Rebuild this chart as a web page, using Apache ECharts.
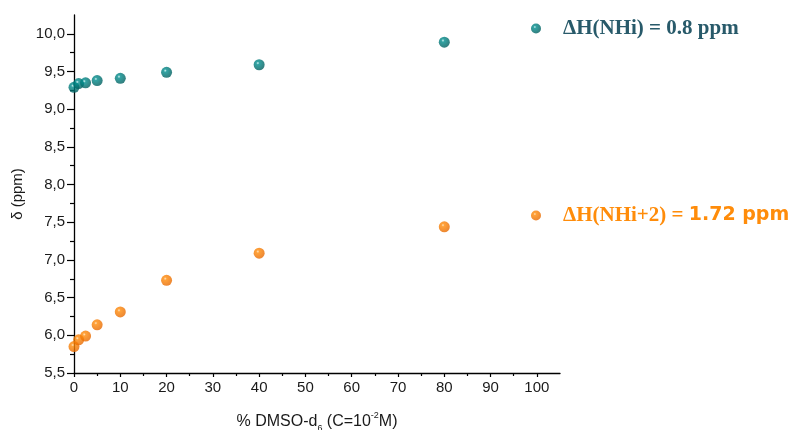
<!DOCTYPE html>
<html>
<head>
<meta charset="utf-8">
<script src="https://cdn.jsdelivr.net/npm/echarts@6/dist/echarts.min.js"></script>
<style>html,body{margin:0;padding:0;background:#fff}#c{width:794px;height:430px}</style>
</head>
<body>
<div id="c"></div>
<script>
var xValues = [0, 1, 2.5, 5, 10, 20, 40, 80];
var nhiValues = [9.29, 9.34, 9.35, 9.38, 9.41, 9.49, 9.59, 9.89];
var nhi2Values = [5.85, 5.94, 5.99, 6.14, 6.31, 6.73, 7.09, 7.44];
var xTicks = [0, 10, 20, 30, 40, 50, 60, 70, 80, 90, 100];
var yTicks = [5.5, 6.0, 6.5, 7.0, 7.5, 8.0, 8.5, 9.0, 9.5, 10.0];

function pairs(xs, ys) { return xs.map(function (x, i) { return [x, ys[i]]; }); }

var tealGrad = {type: 'radial', x: 0.38, y: 0.35, r: 0.65,
  colorStops: [{offset: 0, color: '#c8f0f0'}, {offset: 0.22, color: '#008c8c'}, {offset: 1, color: '#005f5f'}]};
var orangeGrad = {type: 'radial', x: 0.38, y: 0.35, r: 0.65,
  colorStops: [{offset: 0, color: '#ffdcb0'}, {offset: 0.22, color: '#ff8a08'}, {offset: 1, color: '#e86a00'}]};

var chart = echarts.init(document.getElementById('c'), null, {renderer: 'canvas'});
chart.setOption({
  animation: false,
  backgroundColor: '#fff',
  grid: {left: 74, right: 234, top: 15, bottom: 57, outerBoundsMode: 'none', containLabel: false},
  xAxis: {
    type: 'value', min: 0, max: 105, interval: 10,
    name: '{n|% DMSO-d}{s|6}{n| (C=10}{p|-2}{n|M)}',
    nameLocation: 'middle', nameGap: 38,
    nameTextStyle: {
      rich: {
        n: {fontFamily: 'Liberation Sans', fontSize: 16, color: '#1a1a1a', lineHeight: 22},
        s: {fontFamily: 'Liberation Sans', fontSize: 9, color: '#1a1a1a', verticalAlign: 'bottom', lineHeight: 22, padding: [2, 0, 0, 0]},
        p: {fontFamily: 'Liberation Sans', fontSize: 9, color: '#1a1a1a', verticalAlign: 'top', lineHeight: 22, padding: [0, 0, 8, 0]}
      }
    },
    axisLine: {lineStyle: {color: '#000', width: 1.3}},
    axisTick: {customValues: xTicks, length: 4, lineStyle: {color: '#000', width: 1.2}},
    minorTick: {show: true, splitNumber: 2, length: 3, lineStyle: {color: '#000', width: 1.2}},
    axisLabel: {customValues: xTicks, fontFamily: 'Liberation Sans', fontSize: 15, color: '#1a1a1a', margin: 7},
    splitLine: {show: false}
  },
  yAxis: {
    type: 'value', min: 5.5, max: 10.25, interval: 0.5,
    name: 'δ (ppm)', nameLocation: 'middle', nameGap: 45,
    nameTextStyle: {fontFamily: 'Liberation Sans', fontSize: 15, color: '#1a1a1a'},
    axisLine: {lineStyle: {color: '#000', width: 1.3}},
    axisTick: {customValues: yTicks, length: 7, lineStyle: {color: '#000', width: 1.2}},
    minorTick: {show: true, splitNumber: 2, length: 4, lineStyle: {color: '#000', width: 1.2}},
    axisLabel: {customValues: yTicks, fontFamily: 'Liberation Sans', fontSize: 15, color: '#1a1a1a', margin: 9,
      formatter: function (v) { return v.toFixed(1).replace('.', ','); }},
    splitLine: {show: false}
  },
  legend: [
    {data: ['NHi'], left: 526, top: 13, itemWidth: 10, itemHeight: 10, itemGap: 0, icon: 'circle',
      formatter: function () { return '{a|ΔH(NHi) = 0.8 ppm}'; },
      textStyle: {padding: [0, 0, 0, 17], rich: {a: {fontFamily: 'Liberation Serif', fontWeight: 'bold', fontSize: 21, color: '#285a6a'}}}},
    {data: ['NHi+2'], left: 526, top: 200, itemWidth: 10, itemHeight: 10, itemGap: 0, icon: 'circle',
      formatter: function () { return '{a|ΔH(NHi+2) = }{b|1.72 ppm}'; },
      textStyle: {padding: [0, 0, 0, 17], rich: {
        a: {fontFamily: 'Liberation Serif', fontWeight: 'bold', fontSize: 21, color: '#ff8c0a'},
        b: {fontFamily: 'DejaVu Sans', fontWeight: 'bold', fontSize: 19, color: '#ff8c0a'}}}}
  ],
  series: [
    {name: 'NHi', type: 'scatter', data: pairs(xValues, nhiValues), symbolSize: 11, clip: false,
      itemStyle: {color: tealGrad}},
    {name: 'NHi+2', type: 'scatter', data: pairs(xValues, nhi2Values), symbolSize: 11, clip: false,
      itemStyle: {color: orangeGrad}}
  ]
});
</script>
</body>
</html>
